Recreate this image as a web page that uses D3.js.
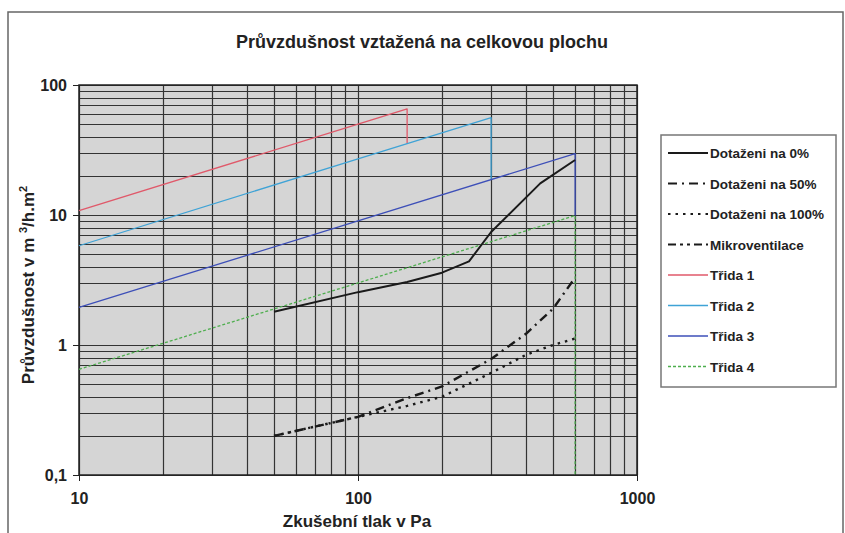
<!DOCTYPE html>
<html>
<head>
<meta charset="utf-8">
<script src="https://cdn.jsdelivr.net/npm/d3@7"></script>
<style>
  body { margin: 0; background: #fff; }
  text { font-family: "Liberation Sans", Arial, sans-serif; font-weight: bold; fill: #222; }
</style>
</head>
<body>
<div id="graph"></div>
<script>
// pressures (Pa) and air permeability (m3/h.m2)
var pressureTest = [50, 100, 150, 200, 250, 300, 450, 600];
var dotazeni0 = [1.8, 2.55, 3.05, 3.6, 4.4, 7.4, 17.5, 26.5];
var pressureTest2 = [50, 100, 150, 200, 300, 400, 500, 600];
var dotazeni50 = [0.2, 0.28, 0.39, 0.48, 0.78, 1.22, 1.9, 3.3];
var dotazeni100 = [0.2, 0.28, 0.34, 0.40, 0.61, 0.84, 1.0, 1.12];
var mikroventilace = [];

var tridaPressure1 = [10, 100, 150, 150];
var trida1 = [10.8, 50, 65.5, 35.4];
var tridaPressure2 = [10, 100, 300, 300];
var trida2 = [5.8, 27, 56, 18.7];
var tridaPressure3 = [10, 100, 600, 600];
var trida3 = [1.95, 9, 29.7, 9.9];
var tridaPressure4 = [10, 100, 600, 600];
var trida4 = [0.65, 3, 9.9, 0.1];

var xTicks = [10, 100, 1000];
var yTicks = [0.1, 1, 10, 100];
var yTickLabels = ["0,1", "1", "10", "100"];

var width = 845, height = 533;
var margins = {top: 85, right: 208, bottom: 58, left: 79};

var svg = d3.select('#graph')
  .append('svg')
  .attr('width', width)
  .attr('height', height);

// outer chart frame
svg.append('rect')
  .attr('x', 8).attr('y', 12)
  .attr('width', 835).attr('height', 540)
  .attr('fill', 'none')
  .attr('stroke', '#666')
  .attr('stroke-width', 1.5);

svg.append('text')
  .attr('x', 422).attr('y', 48)
  .attr('text-anchor', 'middle')
  .style('font-size', '18px')
  .text('Průvzdušnost vztažená na celkovou plochu');

var x = d3.scaleLog()
  .domain([10, 1000])
  .range([margins.left, width - margins.right]);

var y = d3.scaleLog()
  .domain([0.1, 100])
  .range([height - margins.bottom, margins.top]);

// grey plot area
svg.append('rect')
  .attr('x', x(10)).attr('y', y(100))
  .attr('width', x(1000) - x(10))
  .attr('height', y(0.1) - y(100))
  .attr('fill', '#d5d5d5');

/* log grid lines, every 1..9 of each decade */
var grid = svg.append('g').attr('class', 'grid');
grid.selectAll('.vgrid')
  .data(x.ticks())
  .enter().append('line')
  .attr('x1', function(d) { return Math.round(x(d)) + 0.5; })
  .attr('x2', function(d) { return Math.round(x(d)) + 0.5; })
  .attr('y1', y(100)).attr('y2', y(0.1))
  .attr('stroke', '#333').attr('stroke-width', 1.2);
grid.selectAll('.hgrid')
  .data(y.ticks())
  .enter().append('line')
  .attr('y1', function(d) { return Math.round(y(d)) + 0.5; })
  .attr('y2', function(d) { return Math.round(y(d)) + 0.5; })
  .attr('x1', x(10)).attr('x2', x(1000))
  .attr('stroke', '#333').attr('stroke-width', 1.2);

svg.append('rect')
  .attr('x', x(10)).attr('y', y(100))
  .attr('width', x(1000) - x(10))
  .attr('height', y(0.1) - y(100))
  .attr('fill', 'none')
  .attr('stroke', '#222').attr('stroke-width', 1.5);

/* axes */
var xAxis = svg.append('g')
  .attr('transform', 'translate(0,' + y(0.1) + ')')
  .call(d3.axisBottom(x).tickValues(xTicks).tickSize(6).tickPadding(12)
    .tickFormat(function(d) { return d; }));
var yAxis = svg.append('g')
  .attr('transform', 'translate(' + x(10) + ',0)')
  .call(d3.axisLeft(y).tickValues(yTicks).tickSize(6).tickPadding(6)
    .tickFormat(function(d, i) { return yTickLabels[i]; }));
[xAxis, yAxis].forEach(function(a) {
  a.select('.domain').remove();
  a.selectAll('line').attr('stroke', '#222');
  a.selectAll('text').style('font-size', '16px')
    .style('font-family', '"Liberation Sans", Arial, sans-serif')
    .style('font-weight', 'bold').attr('fill', '#222');
});

svg.append('text')
  .attr('x', 357).attr('y', 527)
  .attr('text-anchor', 'middle')
  .style('font-size', '17px')
  .text('Zkušební tlak v Pa');

var yTitle = svg.append('text')
  .attr('transform', 'translate(34,285) rotate(-90)')
  .attr('text-anchor', 'middle')
  .style('font-size', '17px');
yTitle.append('tspan').text('Průvzdušnost  v m   ');
yTitle.append('tspan').attr('dy', -7).style('font-size', '11px').text('3');
yTitle.append('tspan').attr('dy', 7).text('/h.m');
yTitle.append('tspan').attr('dy', -7).style('font-size', '11px').text('2');

/* series */
var series = [
  {name: 'Třida 1', px: tridaPressure1, v: trida1, color: '#e0596a', width: 1.3, dash: null},
  {name: 'Třida 2', px: tridaPressure2, v: trida2, color: '#3fa3d6', width: 1.3, dash: null},
  {name: 'Třida 3', px: tridaPressure3, v: trida3, color: '#3d4fb8', width: 1.3, dash: null},
  {name: 'Třida 4', px: tridaPressure4, v: trida4, color: '#4eae4e', width: 1.3, dash: '3,2'},
  {name: 'Dotaženi na 0%', px: pressureTest, v: dotazeni0, color: '#1a1a1a', width: 2, dash: null},
  {name: 'Dotaženi na 50%', px: pressureTest2, v: dotazeni50, color: '#1a1a1a', width: 2.4, dash: '9,5,2,5'},
  {name: 'Dotaženi na 100%', px: pressureTest2, v: dotazeni100, color: '#1a1a1a', width: 2.4, dash: '2.5,5'},
  {name: 'Mikroventilace', px: [], v: mikroventilace, color: '#1a1a1a', width: 2.4, dash: '8,4,3,4,3,4'}
];

var lineFunc = d3.line()
  .x(function(d) { return x(d[0]); })
  .y(function(d) { return y(d[1]); });

series.forEach(function(s) {
  if (s.v.length === 0) return;
  svg.append('path')
    .attr('d', lineFunc(s.v.map(function(d, i) { return [s.px[i], d]; })))
    .attr('fill', 'none')
    .attr('stroke', s.color)
    .attr('stroke-width', s.width)
    .attr('stroke-dasharray', s.dash)
    .attr('stroke-linejoin', 'round');
});

/* legend */
var legendOrder = ['Dotaženi na 0%', 'Dotaženi na 50%', 'Dotaženi na 100%', 'Mikroventilace',
  'Třida 1', 'Třida 2', 'Třida 3', 'Třida 4'];
var legend = svg.append('g').attr('class', 'legend');
legend.append('rect')
  .attr('x', 661).attr('y', 135)
  .attr('width', 175).attr('height', 252)
  .attr('fill', '#fff')
  .attr('stroke', '#777').attr('stroke-width', 1.5);
legendOrder.forEach(function(name, i) {
  var s = series.filter(function(d) { return d.name === name; })[0];
  var ly = 153 + i * 30.5;
  legend.append('line')
    .attr('x1', 668).attr('x2', 708)
    .attr('y1', ly).attr('y2', ly)
    .attr('stroke', s.color)
    .attr('stroke-width', Math.min(s.width, 1.8))
    .attr('stroke-dasharray', s.dash);
  legend.append('text')
    .attr('x', 710).attr('y', ly + 5)
    .style('font-size', '13.5px')
    .text(name);
});
</script>
</body>
</html>
